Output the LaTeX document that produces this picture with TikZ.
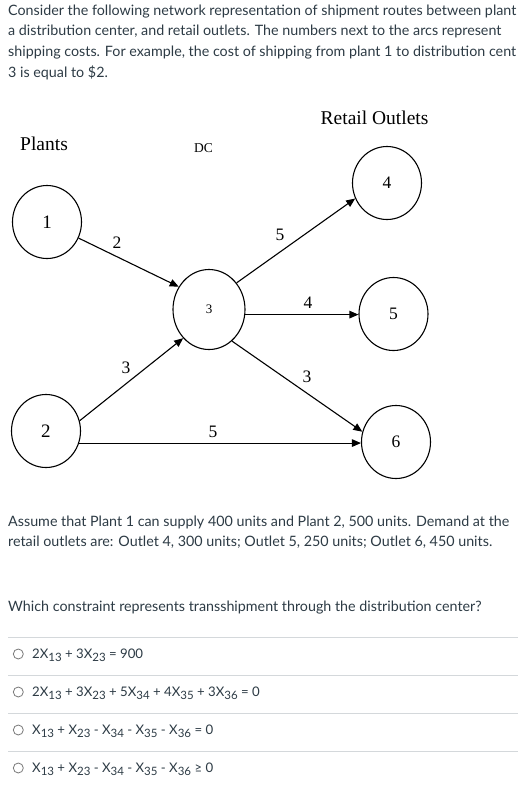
\documentclass[tikz,border=0pt]{standalone}
\usepackage{fontspec}
\setmainfont{Lato}
\newfontfamily\tnr{Liberation Serif}
\usetikzlibrary{shapes.geometric,arrows.meta}
\definecolor{canvastext}{HTML}{2D3B45}
\definecolor{sepgray}{HTML}{D4D8DB}
\definecolor{radiogray}{HTML}{7A7A7A}
\newcommand{\sbx}[1]{\raisebox{-3.6pt}{\fontsize{11.5}{11}\selectfont #1}}
\tikzset{
  para/.style={anchor=base west, inner sep=0pt, text=canvastext, font=\fontsize{14.3}{16}\selectfont},
  opt/.style={anchor=base west, inner sep=0pt, text=canvastext, font=\fontsize{13.2}{14}\selectfont},
  radio/.style={circle, draw=radiogray, line width=0.8pt, minimum size=10pt, inner sep=0pt},
  sep/.style={draw=sepgray, line width=0.8pt},
  netnode/.style={ellipse, draw=black, line width=1.1pt, minimum width=69pt, minimum height=73pt, inner sep=0pt, font=\tnr\fontsize{17.5}{18}\selectfont},
  head/.style={anchor=base west, inner sep=0pt, font=\tnr\fontsize{19.5}{20}\selectfont},
  cost/.style={inner sep=0pt, font=\tnr\fontsize{17.5}{18}\selectfont},
  arc/.style={line width=1.1pt, -{Triangle[length=9pt,width=7.5pt]}}
}
\begin{document}
\begin{tikzpicture}[x=1pt,y=-1pt]
\useasboundingbox[fill=white] (0,0) rectangle (518,788);
% intro text
\node[para] (t1) at (8,15) {Consider the following network representation of shipment routes between plant};
\node[para] (t2) at (8,35.7) {a distribution center, and retail outlets. The numbers next to the arcs represent};
\node[para] (t3) at (8,56.4) {shipping costs. For example, the cost of shipping from plant 1 to distribution cent};
\node[para] (t4) at (8,77) {3 is equal to \$2.};
% headings
\node[head] (hp) at (20,150) {Plants};
\node[head, font=\tnr\fontsize{13.5}{14}\selectfont] (hd) at (194,152) {DC};
\node[head] (hr) at (320.5,124) {Retail Outlets};
% nodes
\node[netnode, font=\tnr\fontsize{19}{19}\selectfont] (n1) at (47,222) {1};
\node[netnode, minimum width=72pt, minimum height=80pt, font=\tnr\fontsize{13}{13}\selectfont] (n3) at (209,309.5) {3};
\node[netnode] (n4) at (387,183) {4};
\node[netnode] (n5) at (393.5,314) {5};
\node[netnode, font=\tnr\fontsize{19}{19}\selectfont] (n2) at (46,431) {2};
\node[netnode] (n6) at (396,442) {6};
% arcs
\draw[arc] (n1.-27) -- (n3.143);
\draw[arc] (n3.44) -- (n4.-154);
\draw[arc] (n3.-8) -- (n3.-8 -| n5.west);
\draw[arc] (n3.-54) -- (n6.163);
\draw[arc] (n2.17) -- (n3.-132);
\draw[arc] (n2.-20) -- (n2.-20 -| n6.west);
% costs
\node[cost] (c13) at (117,243) {2};
\node[cost] (c34) at (280,235) {5};
\node[cost] (c35) at (308,303) {4};
\node[cost] (c36) at (307,376.5) {3};
\node[cost] (c23) at (126,367.5) {3};
\node[cost] (c26) at (213,431.5) {5};
% lower text
\node[para] (t5) at (8,526.7) {Assume that Plant 1 can supply 400 units and Plant 2, 500 units. Demand at the};
\node[para] (t6) at (8,546.7) {retail outlets are: Outlet 4, 300 units; Outlet 5, 250 units; Outlet 6, 450 units.};
\node[para] (t7) at (8,611.5) {Which constraint represents transshipment through the distribution center?};
% separators
\coordinate (s1l) at (8,637.5); \coordinate (s1r) at (518,637.5);
\coordinate (s2l) at (8,675.5); \coordinate (s2r) at (518,675.5);
\coordinate (s3l) at (8,713.5); \coordinate (s3r) at (518,713.5);
\coordinate (s4l) at (8,751.5); \coordinate (s4r) at (518,751.5);
\draw[sep] (s1l) -- (s1r);
\draw[sep] (s2l) -- (s2r);
\draw[sep] (s3l) -- (s3r);
\draw[sep] (s4l) -- (s4r);
% options
\node[radio] (r1) at (18.3,654) {};
\node[radio] (r2) at (18.3,692) {};
\node[radio] (r3) at (18.3,730) {};
\node[radio] (r4) at (18.3,768) {};
\node[opt] (o1) at (32,658) {2X\sbx{13} + 3X\sbx{23} = 900};
\node[opt] (o2) at (32,696) {2X\sbx{13} + 3X\sbx{23} + 5X\sbx{34} + 4X\sbx{35} + 3X\sbx{36} = 0};
\node[opt] (o3) at (32,734) {X\sbx{13} + X\sbx{23} - X\sbx{34} - X\sbx{35} - X\sbx{36} = 0};
\node[opt] (o4) at (32,772) {X\sbx{13} + X\sbx{23} - X\sbx{34} - X\sbx{35} - X\sbx{36} ≥ 0};
\end{tikzpicture}
\end{document}
